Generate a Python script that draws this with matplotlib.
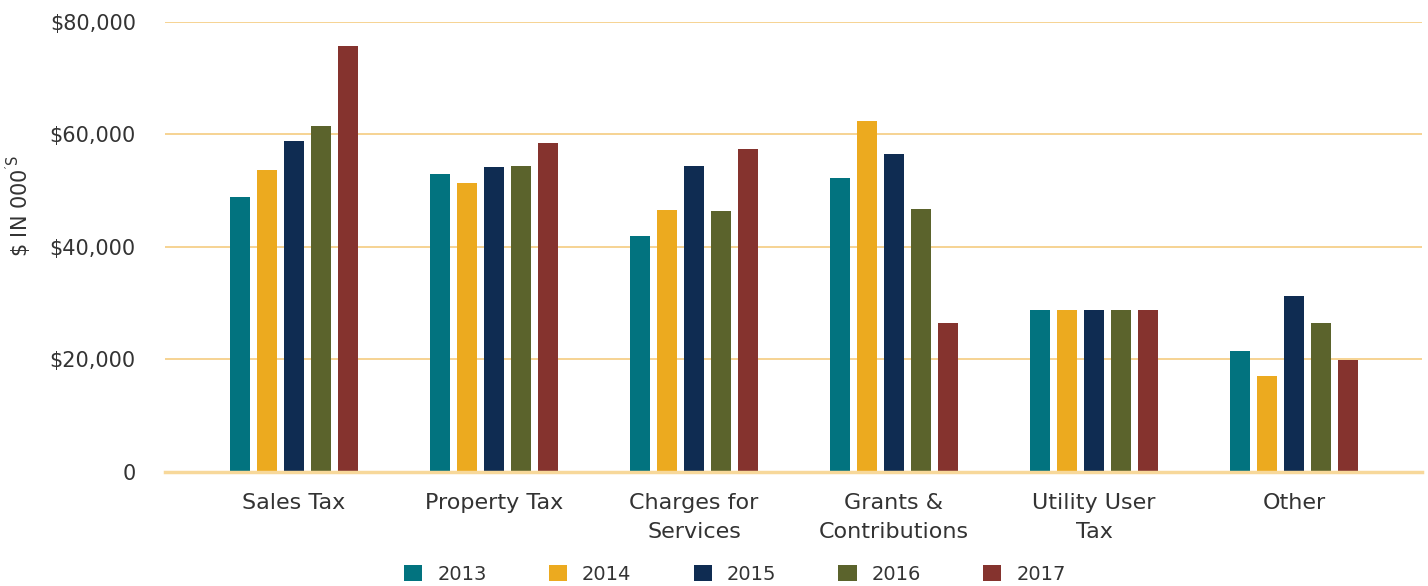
import numpy as np
import matplotlib.pyplot as plt
from matplotlib.patches import Patch

# categories and yearly values ($ in 000's)
categories = ["Sales Tax", "Property Tax", "Charges for\nServices",
              "Grants &\nContributions", "Utility User\nTax", "Other"]
years = ["2013", "2014", "2015", "2016", "2017"]
v2013 = [48800, 52900, 41900, 52200, 28700, 21400]
v2014 = [53600, 51300, 46500, 62400, 28700, 17100]
v2015 = [58800, 54200, 54300, 56500, 28700, 31200]
v2016 = [61500, 54300, 46300, 46700, 28700, 26500]
v2017 = [75700, 58400, 57400, 26500, 28700, 19800]
colors = ["#02737F", "#ECAA1F", "#0F2C52", "#5B632C", "#85332E"]

plt.rcParams['font.family'] = ['DejaVu Sans']
text_color = "#333333"

fig = plt.figure(figsize=(14.28, 5.86), dpi=100)
ax = fig.add_axes([0.1155, 0.195, 0.8803, 0.7675])

x = np.arange(len(categories))
series = [v2013, v2014, v2015, v2016, v2017]
step = 0.135
width = 0.1
for i, vals in enumerate(series):
    ax.bar(x + (i - 2) * step, vals, width=width, color=colors[i], zorder=3)

ax.set_xlim(-0.645, 5.64)
ax.set_ylim(0, 80000)
ax.set_yticks([0, 20000, 40000, 60000, 80000])
ax.set_yticklabels(["0", "$20,000", "$40,000", "$60,000", "$80,000"])
ax.set_xticks(x)
ax.set_xticklabels(categories, linespacing=1.58)
ax.tick_params(axis='both', length=0, colors=text_color)
ax.tick_params(axis='y', pad=21, labelsize=15)
ax.tick_params(axis='x', pad=15, labelsize=16)

ax.grid(axis='y', color="#F5CC80", linewidth=1.2, zorder=0)
for s in ['top', 'right', 'left']:
    ax.spines[s].set_visible(False)
ax.spines['bottom'].set_color("#F7D89A")
ax.spines['bottom'].set_linewidth(2.5)
ax.spines['bottom'].set_zorder(4)

ax.set_ylabel(r"\$ IN 000$^{\mathregular{'S}}$", fontsize=15, color=text_color)
ax.yaxis.set_label_coords(-0.105, 0.59)

handles = [Patch(facecolor=c, label=y) for c, y in zip(colors, years)]
fig.legend(handles=handles, loc='center', ncol=5, frameon=False,
           bbox_to_anchor=(735 / 1428, 1 - 574 / 586), fontsize=14,
           handlelength=0.93, handleheight=0.93, columnspacing=3.2,
           handletextpad=0.77, labelcolor=text_color,
           borderpad=0, borderaxespad=0)

fig.savefig("out.png", dpi=100)
